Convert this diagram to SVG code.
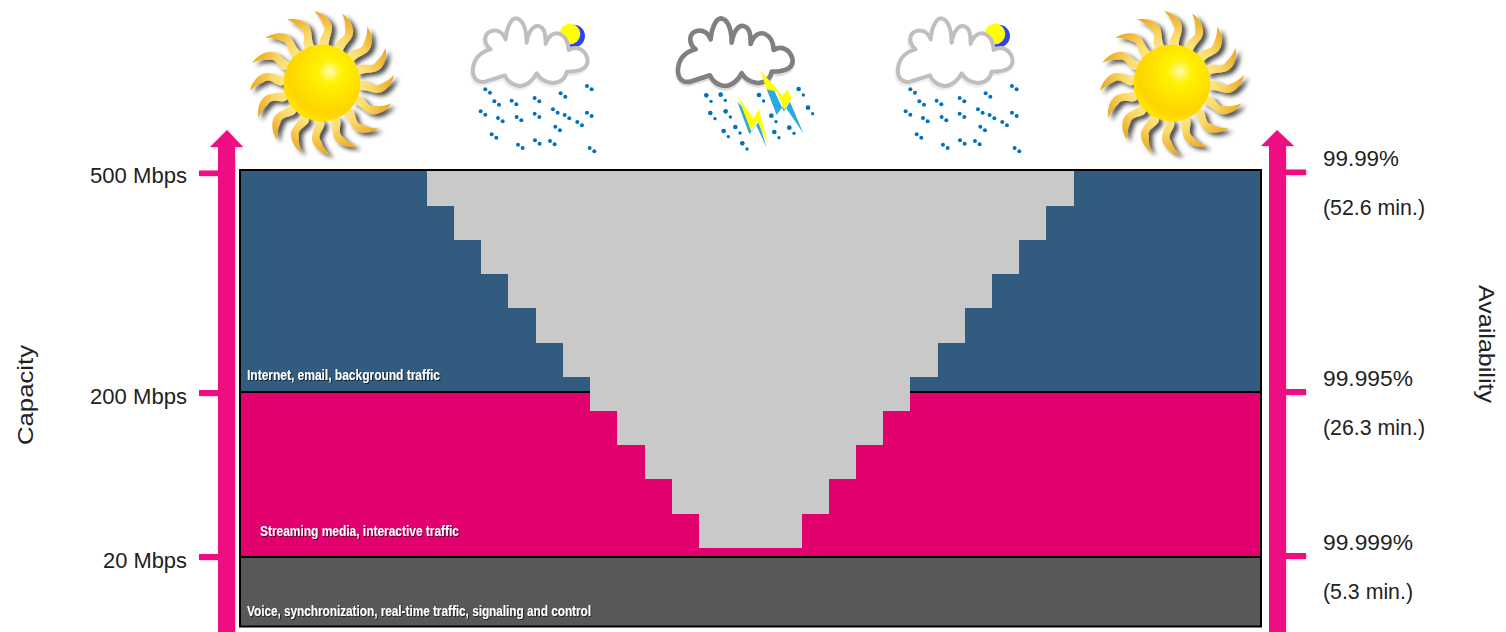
<svg xmlns="http://www.w3.org/2000/svg" width="1506" height="632" viewBox="0 0 1506 632">
<style>
.lab{font-family:"Liberation Sans",Arial,sans-serif;font-size:22px;fill:#222}
.inner{font-family:"Liberation Sans",Arial,sans-serif;font-size:14px;font-weight:bold;fill:#fff;filter:url(#ts)}
.pink{fill:#EE0A83}
.dot{fill:#0070C0}
.cl{fill:#fff;stroke-width:12;stroke-linejoin:round}
</style>
<defs>
<filter id="ts" x="-5%" y="-30%" width="110%" height="170%"><feDropShadow dx="1" dy="1" stdDeviation="0.7" flood-color="#000" flood-opacity=".6"/></filter>
<filter id="as" x="-30%" y="-5%" width="160%" height="110%"><feDropShadow dx="1" dy="1" stdDeviation="1" flood-color="#000" flood-opacity=".2"/></filter>
<filter id="rs" x="-30%" y="-30%" width="170%" height="170%"><feDropShadow dx="4" dy="3" stdDeviation="2.2" flood-color="#222" flood-opacity=".8"/></filter>
<radialGradient id="sg" cx=".6" cy=".35" r=".72"><stop offset="0" stop-color="#FFFBB0"/><stop offset=".22" stop-color="#FFF200"/><stop offset=".75" stop-color="#FFD400"/><stop offset="1" stop-color="#FFEA00"/></radialGradient>
<linearGradient id="rg" x1="0" y1="0" x2="0" y2="1"><stop offset="0" stop-color="#E9A820"/><stop offset=".6" stop-color="#FBD765"/><stop offset="1" stop-color="#FFE98F"/></linearGradient>
<path id="ray" d="M0-36C-8-44 7-50 1-58C-1-64-4-68-8-72C2-70 11-62 10-54C9-47 6-43 7-35Z" fill="url(#rg)"/>
<g id="sun">
<g filter="url(#rs)">
<use href="#ray"/><use href="#ray" transform="rotate(22.5)"/><use href="#ray" transform="rotate(45)"/><use href="#ray" transform="rotate(67.5)"/><use href="#ray" transform="rotate(90)"/><use href="#ray" transform="rotate(112.5)"/><use href="#ray" transform="rotate(135)"/><use href="#ray" transform="rotate(157.5)"/><use href="#ray" transform="rotate(180)"/><use href="#ray" transform="rotate(202.5)"/><use href="#ray" transform="rotate(225)"/><use href="#ray" transform="rotate(247.5)"/><use href="#ray" transform="rotate(270)"/><use href="#ray" transform="rotate(292.5)"/><use href="#ray" transform="rotate(315)"/><use href="#ray" transform="rotate(337.5)"/>
</g>
<circle r="38.5" fill="url(#sg)"/>
</g>
<path id="cp" d="M735 245C705 250 695 225 700 200C705 170 725 155 752 148C730 130 730 100 755 93C775 88 790 100 797 118C800 80 815 55 828 55C850 58 860 90 860 128C865 95 880 75 895 78C915 82 917 105 917 132C925 105 945 95 960 102C978 110 985 130 986 150C1010 135 1035 150 1042 175C1047 200 1030 215 980 215C975 245 945 255 920 245C905 240 895 228 890 220C880 240 860 258 840 258C815 256 800 240 795 226Z"/>
<g id="rain"><g class="dot">
<circle cx="736" cy="268" r="6"/><circle cx="750" cy="278" r="6"/><circle cx="763" cy="304" r="6"/><circle cx="777" cy="314" r="6"/><circle cx="815" cy="302" r="6"/><circle cx="829" cy="313" r="6"/><circle cx="884" cy="294" r="6"/><circle cx="898" cy="304" r="6"/><circle cx="962" cy="280" r="6"/><circle cx="976" cy="290" r="6"/><circle cx="1041" cy="258" r="6"/><circle cx="1055" cy="268" r="6"/><circle cx="722" cy="334" r="6"/><circle cx="736" cy="344" r="6"/><circle cx="774" cy="354" r="6"/><circle cx="788" cy="364" r="6"/><circle cx="830" cy="351" r="6"/><circle cx="844" cy="361" r="6"/><circle cx="884" cy="341" r="6"/><circle cx="898" cy="351" r="6"/><circle cx="939" cy="328" r="6"/><circle cx="953" cy="338" r="6"/><circle cx="974" cy="345" r="6"/><circle cx="988" cy="355" r="6"/><circle cx="1012" cy="366" r="6"/><circle cx="1026" cy="376" r="6"/><circle cx="1041" cy="338" r="6"/><circle cx="1055" cy="348" r="6"/><circle cx="946" cy="380" r="6"/><circle cx="960" cy="391" r="6"/><circle cx="755" cy="403" r="6"/><circle cx="769" cy="413" r="6"/><circle cx="834" cy="434" r="6"/><circle cx="848" cy="444" r="6"/><circle cx="885" cy="421" r="6"/><circle cx="899" cy="431" r="6"/><circle cx="930" cy="423" r="6"/><circle cx="944" cy="433" r="6"/><circle cx="1049" cy="444" r="6"/><circle cx="1063" cy="454" r="6"/>
</g></g>
<g id="lightcloud">
<g transform="scale(.3333)">
<use href="#rain"/>
<circle cx="1001" cy="108" r="34" fill="#2B45F5"/>
<circle cx="990" cy="102" r="31" fill="#FFFF00"/>
<use href="#cp" transform="translate(-4 8)" fill="#eee" stroke="#eee" stroke-width="12"/>
<use href="#cp" class="cl" stroke="#BFBFBF"/>
</g>
</g>
</defs>

<g id="sun-left"><use href="#sun" x="322" y="83"/></g>
<g id="cloud-left"><use href="#lightcloud" x="240" y="0"/></g>
<g id="cloud-storm">
<g transform="translate(650 0) scale(.3333)">
<g class="dot">
<circle cx="169" cy="286" r="7"/><circle cx="183" cy="304" r="5"/><circle cx="212" cy="284" r="7"/><circle cx="226" cy="301" r="5"/><circle cx="327" cy="285" r="7"/><circle cx="341" cy="303" r="5"/><circle cx="446" cy="267" r="7"/><circle cx="460" cy="285" r="5"/><circle cx="181" cy="339" r="7"/><circle cx="195" cy="356" r="5"/><circle cx="227" cy="334" r="7"/><circle cx="241" cy="351" r="5"/><circle cx="364" cy="347" r="7"/><circle cx="378" cy="365" r="5"/><circle cx="474" cy="323" r="7"/><circle cx="488" cy="341" r="5"/><circle cx="221" cy="393" r="7"/><circle cx="235" cy="410" r="5"/><circle cx="256" cy="381" r="7"/><circle cx="270" cy="399" r="5"/><circle cx="373" cy="396" r="7"/><circle cx="387" cy="413" r="5"/><circle cx="418" cy="383" r="7"/><circle cx="432" cy="400" r="5"/><circle cx="277" cy="430" r="7"/><circle cx="291" cy="447" r="5"/>
</g>
<use href="#cp" transform="translate(-615 8)" fill="#ddd" stroke="#ddd" stroke-width="12"/>
<use href="#cp" transform="translate(-615 0)" fill="#fff" stroke="#808080" stroke-width="14" stroke-linejoin="round"/>
<path d="M350 268 380 345 402 315 460 400 420 305 402 335 372 270Z" fill="#29ABE2"/>
<path d="M330 210 398 287 412 268 465 385 424 295 403 330 380 275 350 268Z" fill="#FFFF00"/>
<path d="M262 305 298 403 318 375 350 443 326 365 305 395 280 325Z" fill="#29ABE2"/>
<path d="M264 290 310 355 327 328 355 435 322 362 302 390Z" fill="#FFFF00"/>
</g>
</g>
<g id="cloud-right"><use href="#lightcloud" x="665" y="0"/></g>
<g id="sun-right"><use href="#sun" x="1172" y="83"/></g>

<g id="axis-left" filter="url(#as)">
<path class="pink" d="M227 130 243 147H235V632H218V147H210Z"/>
<rect class="pink" x="199" y="170.500" width="20" height="5.500"/>
<rect class="pink" x="199" y="390" width="20" height="6"/>
<rect class="pink" x="199" y="554" width="20" height="6"/>
</g>
<g id="axis-right" filter="url(#as)">
<path class="pink" d="M1277 130 1294 146H1286V632H1269V146H1261Z"/>
<rect class="pink" x="1285" y="169.500" width="21" height="5.500"/>
<rect class="pink" x="1285" y="389" width="21" height="6"/>
<rect class="pink" x="1285" y="553" width="21" height="6"/>
</g>

<g id="band-internet"><rect x="240" y="170" width="1021" height="222" fill="#325B80"/></g>
<g id="band-streaming"><rect x="240" y="392" width="1021" height="165" fill="#E2006F"/></g>
<g id="band-voice"><rect x="240" y="557" width="1021" height="69" fill="#585858"/></g>
<path d="M240 392H1261M240 557H1261" stroke="#000" stroke-width="2" fill="none"/>
<g id="weather-loss"><path fill="#C9C9C9" d="M427 170V206H454V240H481V274H508V308H536V343H563V377H590V411H617V445H645V479H672V514H699V548H802V514H829V479H856V445H883V411H910V377H938V343H965V308H992V274H1019V240H1046V206H1074V170Z"/></g>
<rect x="240" y="170" width="1021" height="456.500" fill="none" stroke="#000" stroke-width="2"/>

<g id="labels">
<text class="inner" x="247" y="380" textLength="193" lengthAdjust="spacingAndGlyphs">Internet, email, background traffic</text>
<text class="inner" x="260" y="536" textLength="199" lengthAdjust="spacingAndGlyphs">Streaming media, interactive traffic</text>
<text class="inner" x="247" y="616" textLength="344" lengthAdjust="spacingAndGlyphs">Voice, synchronization, real-time traffic, signaling and control</text>
<text class="lab" x="90" y="183" textLength="97" lengthAdjust="spacingAndGlyphs">500 Mbps</text>
<text class="lab" x="90" y="404" textLength="97" lengthAdjust="spacingAndGlyphs">200 Mbps</text>
<text class="lab" x="103" y="568" textLength="84" lengthAdjust="spacingAndGlyphs">20 Mbps</text>
<text class="lab" x="1323" y="166" textLength="76" lengthAdjust="spacingAndGlyphs">99.99%</text>
<text class="lab" x="1323" y="215" textLength="102" lengthAdjust="spacingAndGlyphs">(52.6 min.)</text>
<text class="lab" x="1323" y="386" textLength="90" lengthAdjust="spacingAndGlyphs">99.995%</text>
<text class="lab" x="1323" y="435" textLength="102" lengthAdjust="spacingAndGlyphs">(26.3 min.)</text>
<text class="lab" x="1323" y="550" textLength="90" lengthAdjust="spacingAndGlyphs">99.999%</text>
<text class="lab" x="1323" y="599" textLength="90" lengthAdjust="spacingAndGlyphs">(5.3 min.)</text>
<text class="lab" transform="translate(33 445) rotate(-90)" textLength="100" lengthAdjust="spacingAndGlyphs">Capacity</text>
<text class="lab" transform="translate(1479 285) rotate(90)" textLength="118" lengthAdjust="spacingAndGlyphs">Availability</text>
</g>
</svg>
